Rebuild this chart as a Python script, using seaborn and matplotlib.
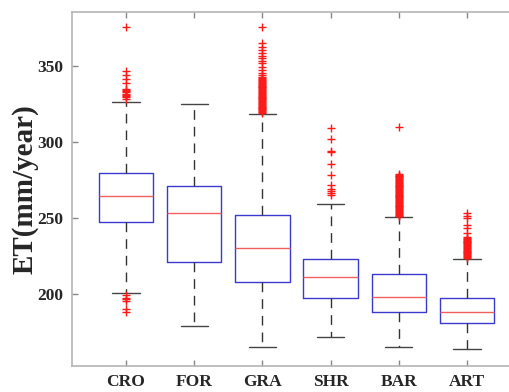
import numpy as np
import pandas as pd
import seaborn as sns
import matplotlib
matplotlib.use("Agg")
import matplotlib.pyplot as plt

categories = ["CRO", "FOR", "GRA", "SHR", "BAR", "ART"]

# five-number summaries: lower whisker, Q1, median, Q3, upper whisker
whisker_low = [200.3, 178.8, 165.1, 171.7, 165.1, 163.4]
q1 = [247.4, 220.7, 207.9, 197.0, 187.8, 180.3]
median = [264.3, 253.3, 229.9, 211.2, 197.6, 187.8]
q3 = [279.6, 271.0, 252.0, 222.8, 212.8, 197.0]
whisker_high = [326.3, 325.2, 318.4, 259.0, 250.3, 222.6]

# outliers (dense red columns read as closely packed values)
out_cro = [375.5, 346.7, 344.0, 341.4, 338.6, 335.0, 334.0, 333.3, 332.5, 331.8,
           331.0, 330.2, 329.5, 328.0,
           199.1, 197.0, 196.2, 195.3, 189.7, 188.0]
out_for = []
out_gra = [375.5, 364.9, 362.7, 360.5, 358.3, 356.8, 355.0, 353.5, 351.8, 349.6,
           347.4, 345.2, 344.0,
           342.4, 341.8, 341.2, 340.6, 340.0, 339.4, 338.8, 338.2, 337.6, 337.0,
           336.4, 335.8, 335.2, 334.6, 334.0, 333.4, 332.8, 332.2, 331.6, 331.0,
           330.4, 329.8, 329.2, 328.6, 328.0, 327.4, 326.8, 326.2, 325.6, 325.0,
           324.4, 323.8, 323.2, 322.6, 322.0, 321.4, 320.8, 320.2, 319.6, 319.0]
out_shr = [309.0, 301.8, 294.2, 293.2, 285.4, 277.9, 271.8, 269.0, 267.4, 266.3, 264.8]
out_bar = [309.5,
           279.0, 278.4, 277.8, 277.2, 276.6, 276.0, 275.4, 274.8, 274.2, 273.6,
           273.0, 272.4, 271.8, 271.2, 270.6, 270.0, 269.4, 268.8, 268.2, 267.6,
           267.0, 266.4, 265.8, 265.2, 264.6, 264.0, 263.4, 262.8, 262.2, 261.6,
           261.0, 260.4, 259.8, 259.2, 258.6, 258.0, 257.4, 256.8, 256.2, 255.6,
           255.0, 254.4, 253.8, 253.2, 252.6, 252.0, 251.4, 250.8]
out_art = [252.9, 251.3, 249.6, 245.2, 243.0, 239.7,
           237.3, 236.7, 236.1, 235.5, 234.9, 234.3, 233.7, 233.1, 232.5, 231.9,
           231.3, 230.7, 230.1, 229.5, 228.9, 228.3, 227.7, 227.1, 226.5, 225.9,
           225.3, 224.7, 224.1, 223.5]

y_ticks = [200, 250, 300, 350]
y_label = "ET(mm/year)"

# build tables
box_rows = []
for i, c in enumerate(categories):
    for v in (whisker_low[i], q1[i], median[i], q3[i], whisker_high[i]):
        box_rows.append({"cover": c, "ET": v})
box_df = pd.DataFrame(box_rows)

outliers = [out_cro, out_for, out_gra, out_shr, out_bar, out_art]
out_rows = []
for c, vals in zip(categories, outliers):
    for v in vals:
        out_rows.append({"cover": c, "ET": v})
out_df = pd.DataFrame(out_rows)

sns.set_style("white")
plt.rcParams["font.family"] = ["Liberation Serif", "DejaVu Serif"]
plt.rcParams["font.weight"] = "bold"

fig = plt.figure(figsize=(5.10, 3.92), dpi=100)
ax = fig.add_axes([0.141, 0.0676, 0.859, 0.9024])

sns.boxplot(data=box_df, x="cover", y="ET", order=categories, ax=ax,
            whis=(0, 100), width=0.8, showfliers=False, fill=False,
            color="#3a3ad0", linewidth=1.0,
            boxprops=dict(color="#3a3ad0", linewidth=1.0),
            medianprops=dict(color="#f06060", linewidth=1.0),
            whiskerprops=dict(color="#333333", linewidth=1.0, linestyle=(0, (7, 5))),
            capprops=dict(color="#444444", linewidth=1.0))

sns.stripplot(data=out_df, x="cover", y="ET", order=categories, ax=ax,
              jitter=False, marker="+", color="#ff1a1a", size=6, linewidth=1.0)

ax.set_xlim(-0.792, 5.63)
ax.set_ylim(152.6, 385.7)
ax.set_yticks(y_ticks)
ax.set_xlabel("")
ax.set_ylabel(y_label, fontsize=21, fontweight="bold", labelpad=-0.5)

for s in ["left", "bottom", "top"]:
    ax.spines[s].set_visible(True)
    ax.spines[s].set_color("#b5b5b5")
    ax.spines[s].set_linewidth(1.2)
ax.spines["right"].set_visible(False)

ax.tick_params(axis="both", direction="in", length=4, width=1, color="#888888",
               labelsize=12.5, top=True, bottom=True, left=True, right=False,
               pad=6)
for lab in ax.get_xticklabels() + ax.get_yticklabels():
    lab.set_fontweight("bold")

fig.savefig("out.png", dpi=100)
